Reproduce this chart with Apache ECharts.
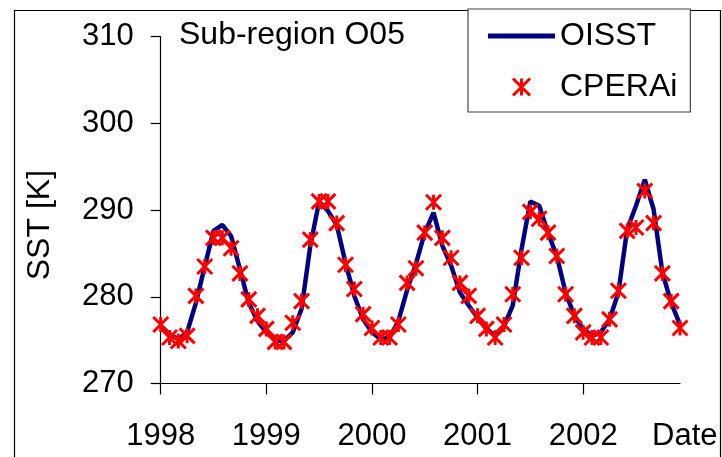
<!DOCTYPE html>
<html>
<head>
<meta charset="utf-8">
<script src="https://cdn.jsdelivr.net/npm/echarts@6/dist/echarts.min.js"></script>
<style>
html,body{margin:0;padding:0;background:#fff;}
#chart{width:722px;height:457px;}
</style>
</head>
<body>
<div id="chart"></div>
<script>
// ---- data ----
var years = ['1998', '1999', '2000', '2001', '2002'];
var monthsPerYear = ['01','02','03','04','05','06','07','08','09','10','11','12'];
var yTicks = [270, 280, 290, 300, 310];
var seriesNames = ['OISST', 'CPERAi'];
var titleText = 'Sub-region O05';
var yName = 'SST [K]';
var xName = 'Date';

var oisst = [
  276.6, 275.7, 275.1, 275.9, 279.3, 283.5, 287.6, 288.3, 287.0, 283.2, 279.3, 277.2,
  275.9, 275.0, 274.9, 275.9, 278.6, 285.9, 291.0, 289.9, 288.3, 283.9, 280.1, 277.4,
  275.9, 275.1, 275.3, 277.2, 280.8, 283.8, 287.4, 289.7, 285.9, 283.6, 280.5, 279.0,
  277.6, 276.3, 275.5, 276.6, 279.0, 285.5, 291.0, 290.5, 287.4, 284.7, 280.5, 277.8,
  276.3, 275.5, 275.9, 277.4, 280.5, 287.8, 290.5, 293.5, 290.1, 282.8, 279.3, 276.8
];
var cperai = [
  276.8, 275.3, 274.9, 275.5, 280.1, 283.5, 286.8, 286.8, 285.6, 282.7, 279.7, 277.8,
  276.3, 274.8, 274.8, 277.0, 279.5, 286.6, 291.0, 291.0, 288.5, 283.7, 280.9, 278.0,
  276.4, 275.3, 275.3, 276.8, 281.6, 283.3, 287.4, 290.9, 286.8, 284.5, 281.6, 280.1,
  277.8, 276.3, 275.3, 276.8, 280.3, 284.5, 289.8, 289.0, 287.4, 284.7, 280.3, 277.8,
  275.9, 275.3, 275.3, 277.4, 280.7, 287.6, 288.0, 292.2, 288.5, 282.7, 279.5, 276.4
];

// categories built from the year / month lists
var categories = [];
years.forEach(function (y) { monthsPerYear.forEach(function (m) { categories.push(y + '-' + m); }); });

var FONT = '"Liberation Sans", Arial, sans-serif';
var chart = echarts.init(document.getElementById('chart'), null, {renderer: 'canvas'});

chart.setOption({
  backgroundColor: '#ffffff',
  animation: false,
  title: {
    text: titleText,
    left: 179, top: 19, padding: 0,
    textStyle: {fontFamily: FONT, fontSize: 32, fontWeight: 'normal', color: '#000'}
  },
  graphic: [{
    type: 'rect', left: 12, top: 8, z: -1,
    shape: {width: 706, height: 470},
    style: {fill: 'none', stroke: '#000', lineWidth: 1.2}
  }],
  legend: {
    orient: 'vertical',
    left: 468, top: 9,
    padding: [11, 13, 9, 20],
    itemWidth: 67, itemHeight: 17, itemGap: 19,
    borderColor: '#444', borderWidth: 1.2, backgroundColor: '#fff',
    textStyle: {fontFamily: FONT, fontSize: 32, color: '#000'},
    data: [
      {name: seriesNames[0], icon: 'path://M0,0L67,0L67,5L0,5Z', itemStyle: {color: '#000080'}},
      {name: seriesNames[1], itemStyle: {borderWidth: 3, borderColor: '#ff0000', color: '#ff0000'}}
    ]
  },
  grid: {left: 160.7, right: 42, top: 36.7, bottom: 73.5, containLabel: false},
  xAxis: {
    type: 'category',
    data: categories,
    boundaryGap: false,
    name: xName,
    nameLocation: 'end',
    nameGap: -28,
    nameTextStyle: {fontFamily: FONT, fontSize: 31, color: '#000', verticalAlign: 'top', padding: [37, 0, 0, 0]},
    axisLine: {lineStyle: {color: '#000', width: 1.2}},
    axisTick: {show: true, inside: false, length: 11, lineStyle: {color: '#000', width: 1.2},
      interval: function (i) { return i % 12 === 0; }},
    axisLabel: {
      fontFamily: FONT, fontSize: 31, color: '#000', margin: 37,
      interval: function (i) { return i % 12 === 0; },
      formatter: function (v) { return v.slice(0, 4); }
    },
    splitLine: {show: false}
  },
  yAxis: {
    type: 'value',
    min: yTicks[0], max: yTicks[yTicks.length - 1], interval: 10,
    name: yName,
    nameLocation: 'middle',
    nameRotate: 90,
    nameGap: 105,
    nameTextStyle: {fontFamily: FONT, fontSize: 32, color: '#000', padding: [0, 30, 0, 0]},
    axisLine: {show: true, lineStyle: {color: '#000', width: 1.2}},
    axisTick: {show: true, inside: false, length: 10, lineStyle: {color: '#000', width: 1.2}},
    axisLabel: {fontFamily: FONT, fontSize: 31, color: '#000', margin: 27},
    splitLine: {show: false}
  },
  series: [
    {
      name: seriesNames[0], type: 'line', data: oisst,
      symbol: 'none', smooth: false,
      lineStyle: {color: '#000080', width: 4.5},
      itemStyle: {color: '#000080'},
      z: 2
    },
    {
      name: seriesNames[1], type: 'scatter', data: cperai,
      symbol: 'path://M0,0L10,10M10,0L0,10M5,0L5,10',
      symbolSize: 15,
      itemStyle: {color: '#ff0000', borderColor: '#ff0000', borderWidth: 3, opacity: 1},
      z: 3
    }
  ]
});
</script>
</body>
</html>
